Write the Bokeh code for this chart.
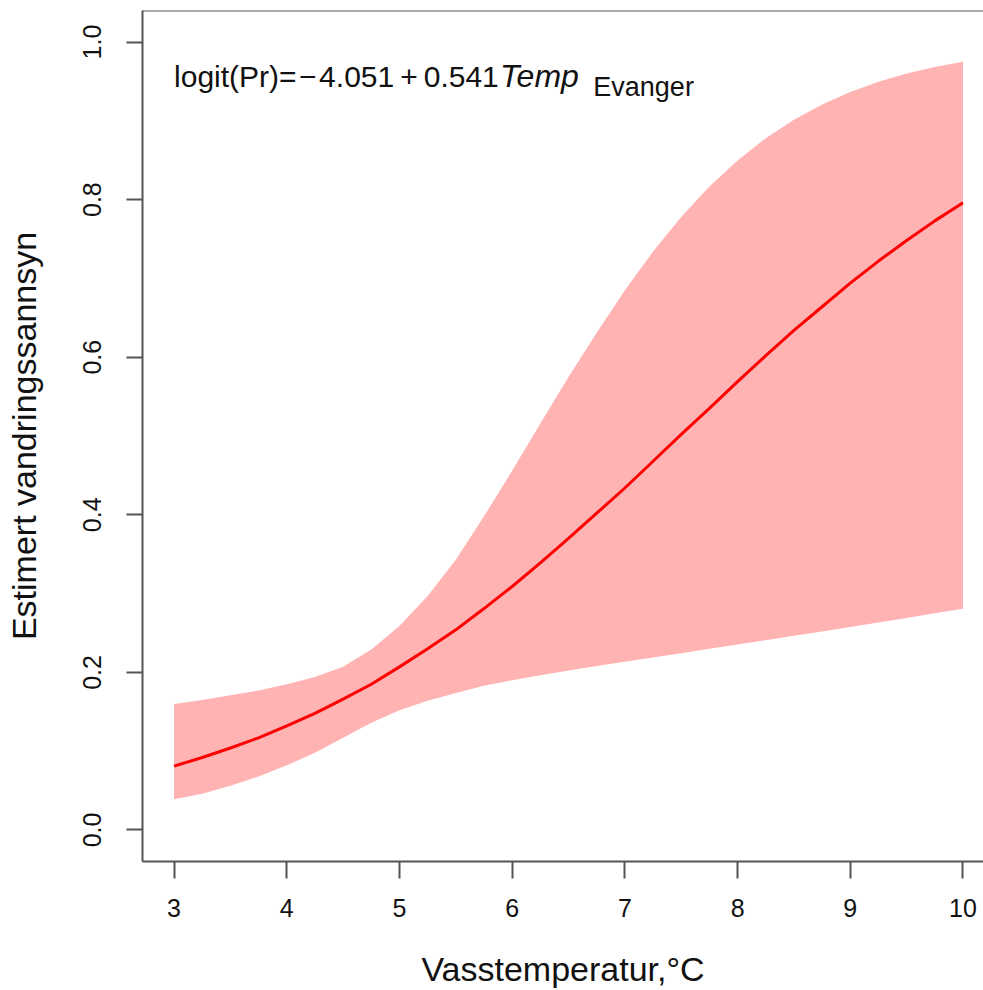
from bokeh.plotting import figure
from bokeh.models import Range1d, FixedTicker, PrintfTickFormatter, Label, Span
from bokeh.embed import file_html
from bokeh.resources import INLINE

# Temperature grid (°C)
temp = [3.00, 3.25, 3.50, 3.75, 4.00, 4.25, 4.50, 4.75, 5.00, 5.25, 5.50, 5.75,
        6.00, 6.25, 6.50, 6.75, 7.00, 7.25, 7.50, 7.75, 8.00, 8.25, 8.50, 8.75,
        9.00, 9.25, 9.50, 9.75, 10.00]
# Estimated probability (fitted curve)
prob = [0.081, 0.092, 0.104, 0.117, 0.132, 0.148, 0.166, 0.185, 0.207, 0.230,
        0.254, 0.281, 0.309, 0.339, 0.370, 0.402, 0.434, 0.468, 0.502, 0.535,
        0.569, 0.602, 0.634, 0.664, 0.694, 0.722, 0.748, 0.773, 0.796]
# Confidence band
lower = [0.039, 0.046, 0.056, 0.068, 0.082, 0.098, 0.117, 0.136, 0.152, 0.164,
         0.174, 0.183, 0.190, 0.1965, 0.2024, 0.208, 0.2135, 0.219, 0.2244, 0.2299,
         0.2353, 0.2409, 0.2464, 0.252, 0.2576, 0.2633, 0.2691, 0.2749, 0.2807]
upper = [0.160, 0.165, 0.171, 0.177, 0.185, 0.194, 0.207, 0.229, 0.259, 0.297,
         0.343, 0.398, 0.456, 0.516, 0.575, 0.631, 0.685, 0.734, 0.778, 0.8165,
         0.8497, 0.8779, 0.9014, 0.9208, 0.9367, 0.9496, 0.960, 0.9683, 0.9749]

x_ticks = [3, 4, 5, 6, 7, 8, 9, 10]
y_ticks = [0.0, 0.2, 0.4, 0.6, 0.8, 1.0]

FONT = "Liberation Sans"
AX = "#555555"

X_START, X_END = 2.72, 10.182
Y_START, Y_END = -0.04, 1.04

p = figure(width=983, height=990,
           x_range=Range1d(X_START, X_END), y_range=Range1d(Y_START, Y_END),
           output_backend="svg", toolbar_location=None,
           min_border_left=142, min_border_right=0, min_border_top=10,
           min_border_bottom=129)
p.outline_line_color = None
p.background_fill_color = "white"
p.border_fill_color = "white"
p.xgrid.visible = False
p.ygrid.visible = False

p.varea(x=temp, y1=lower, y2=upper, fill_color="#FFB3B3", fill_alpha=1.0)
p.line(x=temp, y=prob, line_color="#FF0000", line_width=3)

# top border of the box
p.add_layout(Span(location=Y_END, dimension="width", line_color=AX, line_width=2))

for ax in (p.xaxis[0], p.yaxis[0]):
    ax.axis_line_color = AX
    ax.axis_line_width = 2
    ax.major_tick_line_color = AX
    ax.major_tick_line_width = 2
    ax.minor_tick_line_color = None
    ax.major_tick_in = 0
    ax.major_label_text_font = FONT
    ax.major_label_text_font_size = "25px"
    ax.major_label_text_color = "#111111"
    ax.axis_label_text_font = FONT
    ax.axis_label_text_font_size = "34px"
    ax.axis_label_text_font_style = "normal"
    ax.axis_label_text_color = "#111111"

p.xaxis.ticker = FixedTicker(ticks=x_ticks)
p.yaxis.ticker = FixedTicker(ticks=y_ticks)
p.yaxis.formatter = PrintfTickFormatter(format="%.1f")
p.yaxis.major_label_orientation = "vertical"

p.xaxis.major_tick_out = 17
p.yaxis.major_tick_out = 16
p.xaxis.major_label_standoff = 20
p.yaxis.major_label_standoff = 25
p.xaxis.axis_label_standoff = 30
p.yaxis.axis_label_standoff = 38
p.xaxis.axis_label = "Vasstemperatur,°C"
p.yaxis.axis_label = "Estimert vandringssannsyn"

# Model equation annotation
eq_main = Label(x=3.0, y=0.9565, text="logit(Pr)=\u200a\u2212\u200a4.051\u2009+\u20090.541",
                text_font=FONT, text_font_size="30px", text_color="#111111",
                text_baseline="alphabetic")
eq_var = Label(x=5.892, y=0.9565, text="Temp",
               text_font=FONT, text_font_size="32px", text_font_style="italic",
               text_color="#111111", text_baseline="alphabetic")
eq_sub = Label(x=6.72, y=0.9427, text="Evanger",
               text_font=FONT, text_font_size="27px", text_color="#111111",
               text_baseline="alphabetic")
for lab in (eq_main, eq_var, eq_sub):
    p.add_layout(lab)

open("out.html", "w").write(file_html(p, INLINE))
